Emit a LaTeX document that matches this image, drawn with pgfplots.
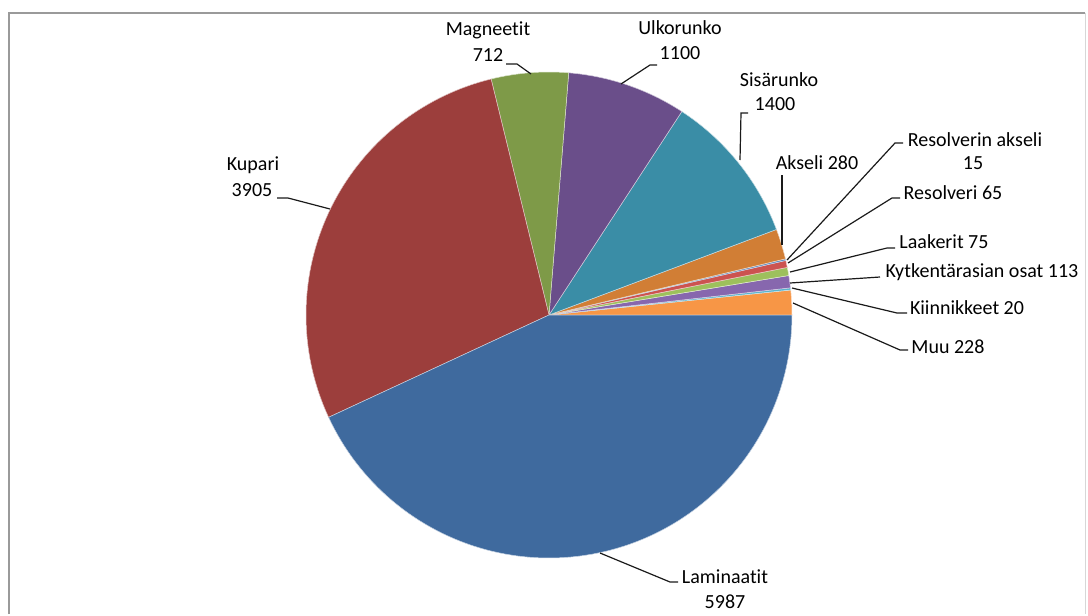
\documentclass[border=0pt]{standalone}
\usepackage{pgfplots}
\pgfplotsset{compat=1.18}
\usepackage{fontspec}
\setmainfont{Carlito}[Ligatures=NoCommon]
\definecolor{cLam}{HTML}{3F6A9E}
\definecolor{cKup}{HTML}{9C3E3C}
\definecolor{cMag}{HTML}{7E9A48}
\definecolor{cUlk}{HTML}{6A4E8A}
\definecolor{cSis}{HTML}{3A8DA6}
\definecolor{cAks}{HTML}{D17E35}
\definecolor{cRak}{HTML}{5A86C0}
\definecolor{cRes}{HTML}{CC5350}
\definecolor{cLaa}{HTML}{9DC05C}
\definecolor{cKyt}{HTML}{8767AE}
\definecolor{cKii}{HTML}{5AB4CC}
\definecolor{cMuu}{HTML}{F79646}
\definecolor{txt}{HTML}{1A1A1A}
\definecolor{frame}{HTML}{9A9A9A}
\begin{document}
\begin{tikzpicture}
% values (counter-clockwise from 3 o'clock)
\def\vMuu{228}
\def\vKii{20}
\def\vKyt{113}
\def\vLaa{75}
\def\vRes{65}
\def\vRak{15}
\def\vAks{280}
\def\vSis{1400}
\def\vUlk{1100}
\def\vMag{712}
\def\vKup{3905}
\def\vLam{5987}
\pgfmathsetmacro\tot{\vMuu+\vKii+\vKyt+\vLaa+\vRes+\vRak+\vAks+\vSis+\vUlk+\vMag+\vKup+\vLam}
\pgfmathsetmacro\deg{360/\tot}
\pgfmathsetmacro\cA{\vMuu*\deg}
\pgfmathsetmacro\cB{\cA+\vKii*\deg}
\pgfmathsetmacro\cC{\cB+\vKyt*\deg}
\pgfmathsetmacro\cD{\cC+\vLaa*\deg}
\pgfmathsetmacro\cE{\cD+\vRes*\deg}
\pgfmathsetmacro\cF{\cE+\vRak*\deg}
\pgfmathsetmacro\cG{\cF+\vAks*\deg}
\pgfmathsetmacro\cH{\cG+\vSis*\deg}
\pgfmathsetmacro\cI{\cH+\vUlk*\deg}
\pgfmathsetmacro\cJ{\cI+\vMag*\deg}
\pgfmathsetmacro\cK{\cJ+\vKup*\deg}
\newcommand{\slice}[4]{%
  \addplot[fill=#3, draw=white!70!#3, line width=0.25pt, domain=#1:#2, samples=#4, variable=\t]
    ({549+243*cos(\t)}, {299+243*sin(\t)}) -- (axis cs:549,299) -- cycle;
}
\begin{axis}[scale only axis, width=544pt, height=307pt,
  xmin=0, xmax=1088, ymin=0, ymax=614, hide axis, clip=false,
  every node/.style={font=\fontsize{9.8}{12.5}\selectfont, text=txt, inner sep=0pt}]
\path (axis cs:0,0) rectangle (axis cs:1088,614);
\draw[frame, line width=1pt] (axis cs:8.5,0) -- (axis cs:8.5,601.5) -- (axis cs:1085,601.5);
\draw[frame!40, line width=0.5pt] (axis cs:1085,601.5) -- (axis cs:1085,0);
\slice{0}{\cA}{cMuu}{6}
\slice{\cA}{\cB}{cKii}{3}
\slice{\cB}{\cC}{cKyt}{4}
\slice{\cC}{\cD}{cLaa}{4}
\slice{\cD}{\cE}{cRes}{4}
\slice{\cE}{\cF}{cRak}{3}
\slice{\cF}{\cG}{cAks}{6}
\slice{\cG}{\cH}{cSis}{30}
\slice{\cH}{\cI}{cUlk}{24}
\slice{\cI}{\cJ}{cMag}{16}
\slice{\cJ}{\cK}{cKup}{70}
\slice{\cK}{360}{cLam}{100}
% leader lines
\draw[txt, line width=0.6pt] (axis cs:531,540) -- (axis cs:517,550) -- (axis cs:506,550);
\draw[txt, line width=0.6pt] (axis cs:621,530) -- (axis cs:650,549) -- (axis cs:657,549);
\draw[txt, line width=0.6pt] (axis cs:740,454) -- (axis cs:741,501) -- (axis cs:748,501);
\draw[txt, line width=0.6pt] (axis cs:330,405) -- (axis cs:288,416) -- (axis cs:277,416);
\draw[txt, line width=0.6pt] (axis cs:782,369) -- (axis cs:782,439);
\draw[txt, line width=0.6pt] (axis cs:787,354) -- (axis cs:895,471) -- (axis cs:903,471);
\draw[txt, line width=0.6pt] (axis cs:788,351) -- (axis cs:892,416) -- (axis cs:900,416);
\draw[txt, line width=0.6pt] (axis cs:790,342) -- (axis cs:887,366) -- (axis cs:895,366);
\draw[txt, line width=0.6pt] (axis cs:790,331) -- (axis cs:880,337);
\draw[txt, line width=0.6pt] (axis cs:792,326) -- (axis cs:897,301) -- (axis cs:907,301);
\draw[txt, line width=0.6pt] (axis cs:793,311) -- (axis cs:900,264) -- (axis cs:908,264);
\draw[txt, line width=0.6pt] (axis cs:600,61) -- (axis cs:670,32) -- (axis cs:678,32);
% labels
\node at (axis cs:488,584) {Magneetit};
\node at (axis cs:488,559) {712};
\node at (axis cs:680,586) {Ulkorunko};
\node at (axis cs:680,561) {1100};
\node at (axis cs:779,534) {Sisärunko};
\node at (axis cs:775,510) {1400};
\node at (axis cs:253,449) {Kupari};
\node at (axis cs:252,424) {3905};
\node at (axis cs:817,451) {Akseli 280};
\node at (axis cs:975,474) {Resolverin akseli};
\node at (axis cs:973,451) {15};
\node at (axis cs:953,421) {Resolveri 65};
\node at (axis cs:944,372) {Laakerit 75};
\node at (axis cs:982,342) {Kytkentärasian osat 113};
\node at (axis cs:967,306) {Kiinnikkeet 20};
\node at (axis cs:948,267) {Muu 228};
\node at (axis cs:725,37) {Laminaatit};
\node at (axis cs:725,12) {5987};
\end{axis}
\end{tikzpicture}
\end{document}
